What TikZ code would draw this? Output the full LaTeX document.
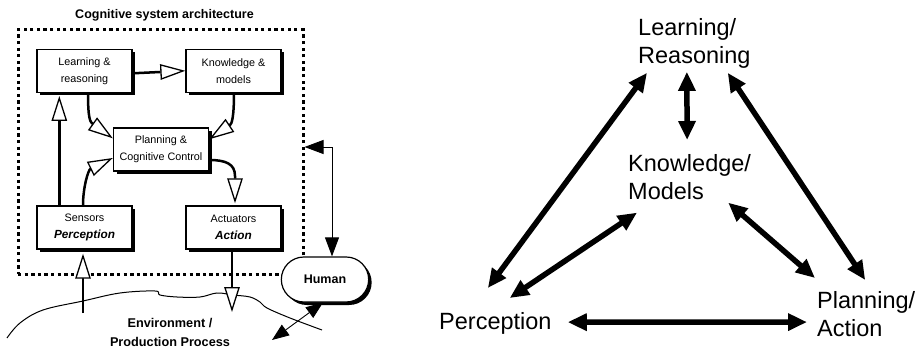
\documentclass[tikz,border=0pt]{standalone}
\usepackage{fontspec}
\setmainfont{Liberation Sans}
\usetikzlibrary{arrows.meta,shadows,shapes.misc}
\begin{document}
\begin{tikzpicture}[x=1pt,y=-1pt,
  box/.style={draw, line width=1.4pt, fill=white, minimum width=95pt, minimum height=43pt,
    inner sep=2pt, align=center, font=\fontsize{10.8}{17}\selectfont,
    drop shadow={shadow xshift=3pt, shadow yshift=-3pt, fill=black, opacity=1}},
  humanbox/.style={rounded rectangle, draw, line width=1.2pt, fill=white, minimum width=94pt,
    minimum height=45pt, font=\bfseries\fontsize{12.5}{15}\selectfont,
    drop shadow={shadow xshift=3pt, shadow yshift=-3pt, fill=black, opacity=1}},
  sysbox/.style={draw, line width=3pt, dash pattern=on 3.3pt off 3.3pt,
    minimum width=285pt, minimum height=244pt, inner sep=0pt},
  oarrow/.style={line width=2.5pt, -{Triangle[open, length=25pt, width=15.5pt, line width=1.3pt, fill=white]}},
  harrow/.style={line width=0.9pt, {Triangle[length=19pt, width=14pt]}-{Triangle[length=19pt, width=14pt]}},
  earrow/.style={line width=0.9pt, {Triangle[length=17pt, width=13pt]}-{Triangle[length=17pt, width=13pt]}},
  rarrow/.style={line width=5.5pt, {Triangle[length=19pt, width=16.5pt]}-{Triangle[length=19pt, width=16.5pt]}},
  rtext/.style={anchor=north west, inner sep=0pt, align=left, font=\fontsize{23.5}{28.5}\selectfont},
  envtext/.style={align=center, font=\bfseries\fontsize{12.7}{19}\selectfont}
]
\useasboundingbox (0,0) rectangle (922,350);

% ---------- left: cognitive system architecture ----------
\node[sysbox] (sys) at (160.5,152) {};
\node[font=\bfseries\fontsize{12.5}{15}\selectfont] (title) at (164.5,15) {Cognitive system architecture};

\draw[line width=1pt] plot[smooth, tension=0.6] coordinates {(7,338) (20,323) (43,310) (83,301) (120,293) (155,291) (160,295) (177,297) (200,297) (217,293) (233,295) (250,297) (260,302) (267,308) (290,318) (322,330)};
\node[envtext] (env) at (170,332) {Environment /\\Production Process};

\node[box] (L) at (84.5,70.8) {Learning \&\\reasoning};
\node[box] (K) at (233.5,70.8) {Knowledge \&\\models};
\node[box] (P) at (161,149.5) {Planning \&\\Cognitive Control};
\node[box] (S) at (84.5,227.5) {Sensors\\{\bfseries\itshape\fontsize{11.8}{17}\selectfont Perception}};
\node[box] (A) at (233.5,227.5) {Actuators\\{\bfseries\itshape\fontsize{11.8}{17}\selectfont Action}};
\node[humanbox] (H) at (325,279.5) {Human};

\coordinate (envin) at (83,313);
\coordinate (envout) at (232,312);
\coordinate (envpt) at (272,340);

\draw[oarrow] ([yshift=-2.5pt]L.east) -- (K.west);
\draw[oarrow] ([xshift=3.5pt]L.south) .. controls (88,118) and (90,122) .. ([yshift=-11pt]P.north west);
\draw[oarrow] ([xshift=0.5pt]K.south) .. controls (234,116) and (232,124) .. ([yshift=-12pt]P.north east);
\draw[oarrow] ([xshift=-1.5pt]S.north) .. controls (83,188) and (88,170) .. ([yshift=-8.5pt]P.west);
\draw[oarrow] ([yshift=-10.5pt]P.east) .. controls (226,160) and (235,164) .. (235,176) -- ([xshift=1.5pt,yshift=2pt]A.north);
\draw[oarrow] ([xshift=-25.2pt]S.north) -- ([xshift=-25.2pt,yshift=-3pt]L.south);
\draw[oarrow] (envin) -- ([xshift=-1.5pt,yshift=-4pt]S.south);
\draw[oarrow] ([xshift=-1.5pt]A.south) -- (envout);
\draw[harrow] ([yshift=5pt]sys.east) -| ([xshift=7pt]H.north);
\draw[earrow] ([xshift=-2pt]H.south) -- (envpt);

% ---------- right: triangle ----------
\node[rtext] (RL) at (638,18) {Learning/\\Reasoning};
\node[rtext] (RK) at (628,154) {Knowledge/\\Models};
\node[rtext] (RP) at (439,312) {Perception};
\node[rtext] (RA) at (817,291) {Planning/\\Action};

\draw[rarrow] ([shift={(-7.5pt,24pt)}]RP.north) -- ([shift={(9pt,-4pt)}]RL.south west);
\draw[rarrow] ([shift={(-7.5pt,-3pt)}]RL.south) -- ([shift={(-2.5pt,14pt)}]RK.north);
\draw[rarrow] ([shift={(-23pt,-4pt)}]RL.south east) -- ([shift={(-1pt,11pt)}]RA.north);
\draw[rarrow] ([shift={(9pt,-12.5pt)}]RK.south west) -- ([shift={(-42pt,14pt)}]RP.north east);
\draw[rarrow] ([shift={(-23pt,-2.5pt)}]RK.south east) -- ([shift={(-2pt,13pt)}]RA.north west);
\draw[rarrow] ([shift={(16pt,1pt)}]RP.east) -- ([shift={(-10pt,-8pt)}]RA.west);
\end{tikzpicture}
\end{document}
